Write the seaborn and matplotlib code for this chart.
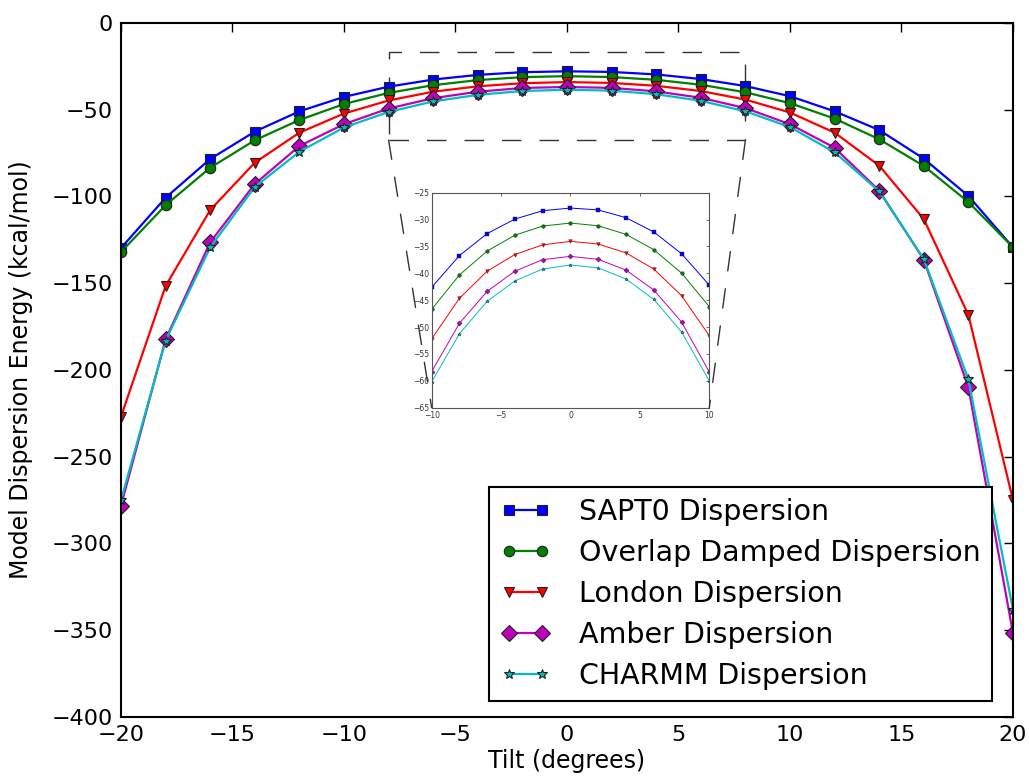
import matplotlib
matplotlib.use("Agg")
import matplotlib.pyplot as plt
from matplotlib.patches import Rectangle, ConnectionPatch
import seaborn as sns
import numpy as np

# ---------------- data ----------------
tilt = [-20, -18, -16, -14, -12, -10, -8, -6, -4, -2, 0, 2, 4, 6, 8, 10, 12, 14, 16, 18, 20]
sapt0 = [-129.7, -100.7, -78.4, -62.6, -50.9, -42.6, -36.7, -32.6, -29.9, -28.35, -27.85,
         -28.2, -29.65, -32.3, -36.35, -42.2, -50.9, -61.7, -78.2, -99.7, -129.3]
overlap = [-132.0, -105.0, -83.4, -67.6, -55.9, -46.7, -40.3, -35.85, -32.9, -31.2, -30.65,
           -31.15, -32.75, -35.6, -39.95, -46.2, -55.1, -67.0, -82.4, -103.2, -129.3]
london = [-226.9, -151.6, -107.8, -80.5, -63.2, -52.2, -44.65, -39.6, -36.5, -34.7, -34.05,
          -34.55, -36.2, -39.2, -44.15, -51.6, -63.2, -82.2, -113.0, -168.3, -275.0]
amber = [-278.2, -182.3, -126.4, -92.8, -70.9, -58.3, -49.3, -43.35, -39.6, -37.45, -36.85,
         -37.4, -39.4, -43.1, -49.05, -58.35, -71.9, -96.6, -136.4, -210.0, -351.8]
charmm = [-275.0, -183.0, -129.3, -94.5, -74.2, -60.2, -51.25, -45.2, -41.4, -39.2, -38.45,
          -39.0, -41.05, -44.85, -50.9, -60.0, -74.5, -97.0, -136.0, -205.4, -338.3]

labels = ["SAPT0 Dispersion", "Overlap Damped Dispersion", "London Dispersion",
          "Amber Dispersion", "CHARMM Dispersion"]
series = [sapt0, overlap, london, amber, charmm]
colors = ["#0000ff", "#008000", "#ff0000", "#bf00bf", "#00bfbf"]
markers = ["s", "o", "v", "D", "*"]
msizes = [7.5, 7.5, 7.5, 8.5, 7.5]

x_ticks = [-20, -15, -10, -5, 0, 5, 10, 15, 20]
y_ticks = [0, -50, -100, -150, -200, -250, -300, -350, -400]
inset_x_ticks = [-10, -5, 0, 5, 10]
inset_y_ticks = [-25, -30, -35, -40, -45, -50, -55, -60, -65]
zoom_box = [-8, 8, -67.5, -16.5]

# ---------------- style ----------------
sns.set_style("white")
plt.rcParams["font.family"] = ["DejaVu Sans"]
plt.rcParams["axes.unicode_minus"] = True
plt.rcParams["text.color"] = "black"
plt.rcParams["axes.labelcolor"] = "black"
plt.rcParams["xtick.color"] = "black"
plt.rcParams["ytick.color"] = "black"

fig = plt.figure(figsize=(10.29, 7.78), dpi=100)
ax = fig.add_axes([0.11759, 0.07841, 0.86686, 0.89203])

for vals, lab, c, m, ms in zip(series, labels, colors, markers, msizes):
    sns.lineplot(x=tilt, y=vals, ax=ax, color=c, marker=m, markersize=ms,
                 markeredgecolor="#202020", markeredgewidth=0.8, linewidth=1.6,
                 label=lab, legend=False)

ax.set_xlim(-20, 20)
ax.set_ylim(-400, 0)
ax.set_xticks(x_ticks)
ax.set_yticks(y_ticks)
ax.tick_params(direction="in", length=6.5, width=1.0, top=True, right=True,
               labelsize=16, pad=6, colors="black")
for s in ax.spines.values():
    s.set_linewidth(1.5)
    s.set_color("black")
ax.set_xlabel("Tilt (degrees)", fontsize=17, labelpad=3, color="black")
ax.set_ylabel("Model Dispersion Energy (kcal/mol)", fontsize=17, labelpad=13, color="black")

handles, hlabels = ax.get_legend_handles_labels()
leg = ax.legend(handles, hlabels, loc="lower right",
                bbox_to_anchor=(992 / 1029, 1 - 701 / 778), bbox_transform=fig.transFigure,
                borderaxespad=0, fontsize=20.5, handlelength=1.75, handletextpad=1.0,
                labelspacing=0.45, borderpad=0.4, numpoints=2, fancybox=False,
                frameon=True, framealpha=1.0)
leg.get_frame().set_edgecolor("black")
leg.get_frame().set_linewidth(1.5)
for t in leg.get_texts():
    t.set_color("black")

# zoom box
bx0, bx1, by0, by1 = zoom_box
rect = Rectangle((bx0, by0), bx1 - bx0, by1 - by0, fill=False, edgecolor="#333333",
                 linewidth=1.0, linestyle=(0, (14, 13)), zorder=1)
ax.add_patch(rect)

# inset
axins = fig.add_axes([0.4195, 0.476, 0.2698, 0.2763])
for vals, c, m in zip(series, colors, markers):
    sub_x = [t for t in tilt if -10 <= t <= 10]
    sub_y = [v for t, v in zip(tilt, vals) if -10 <= t <= 10]
    sns.lineplot(x=sub_x, y=sub_y, ax=axins, color=c, marker=m, markersize=2.6,
                 markeredgecolor="#202020", markeredgewidth=0.3, linewidth=0.7,
                 legend=False)
axins.set_xlim(-10, 10)
axins.set_ylim(-65, -25)
axins.set_xticks(inset_x_ticks)
axins.set_yticks(inset_y_ticks)
axins.tick_params(direction="in", length=2.5, width=0.5, top=True, right=True,
                  labelsize=5.5, colors="#333333")
axins.tick_params(axis="x", pad=2.5)
axins.tick_params(axis="y", pad=2.0)
for s in axins.spines.values():
    s.set_linewidth(0.8)
    s.set_color("#555555")
axins.set_xlabel("")
axins.set_ylabel("")

# connector lines from box bottom corners to inset bottom corners
for (xa, xb) in [(bx0, -10), (bx1, 10)]:
    con = ConnectionPatch(xyA=(xa, by0), coordsA=ax.transData,
                          xyB=(xb, -65), coordsB=axins.transData,
                          color="#333333", linewidth=1.0, linestyle=(0, (14, 13)))
    fig.add_artist(con)

fig.savefig("out.png", dpi=100)
